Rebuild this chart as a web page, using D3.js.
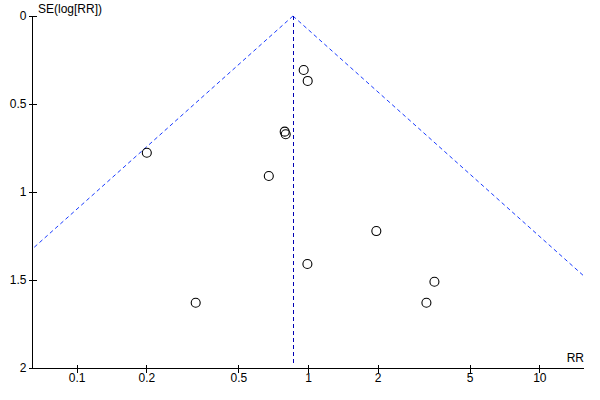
<!DOCTYPE html>
<html>
<head>
<meta charset="utf-8">
<script src="https://cdn.jsdelivr.net/npm/d3@7"></script>
<style>
  html, body { margin: 0; padding: 0; background: #fff; }
  svg text { font-family: "Liberation Sans", Arial, sans-serif; font-size: 12px; fill: #000; }
</style>
</head>
<body>
<div id="chart"></div>
<script>
// study estimates
const rr = [0.958, 0.997, 0.793, 0.801, 0.201, 0.677, 0.994, 0.327, 1.974, 3.52, 3.25];
const se = [0.307, 0.369, 0.657, 0.672, 0.777, 0.909, 1.409, 1.629, 1.222, 1.51, 1.629];

const pooledRR = 0.861;
const xTicks = [0.1, 0.2, 0.5, 1, 2, 5, 10];
const yTicks = [0, 0.5, 1, 1.5, 2];

const width = 600, height = 400;
// plot box edges (don't call these top/left: window.top exists)
const plotL = 32, plotR = 584, plotT = 16, plotB = 368;

const svg = d3.select("#chart").append("svg")
    .attr("width", width)
    .attr("height", height);

const x = d3.scaleLog().domain([0.0641, 15.6]).range([plotL, plotR]);
const y = d3.scaleLinear().domain([0, 2]).range([plotT, plotB]);

// x axis, ticks crossing the line
const gx = svg.append("g")
    .attr("transform", `translate(0,${plotB + 0.5})`)
    .style("shape-rendering", "crispEdges")
    .call(d3.axisBottom(x).tickValues(xTicks).tickFormat(d => d).tickSize(4).tickPadding(3));
gx.select(".domain").attr("d", `M${plotL},0H${plotR}`).attr("stroke", "#000");
gx.selectAll(".tick line").attr("y1", -4).attr("y2", 4).attr("stroke", "#000");
gx.selectAll(".tick text").attr("y", 5).attr("dy", "0.71em");

// y axis
const gy = svg.append("g")
    .attr("transform", `translate(${plotL + 0.5},0)`)
    .style("shape-rendering", "crispEdges")
    .call(d3.axisLeft(y).tickValues(yTicks).tickFormat(d => d).tickSize(4).tickPadding(3));
gy.select(".domain").attr("d", `M0,${plotT}V${plotB}`).attr("stroke", "#000");
gy.selectAll(".tick line").attr("x1", 4).attr("x2", -4).attr("stroke", "#000");
gy.selectAll(".tick text").attr("x", -6);
svg.selectAll(".tick text").style("font-family", "Liberation Sans, Arial, sans-serif").style("font-size", "12px");

// axis titles
svg.append("text").attr("x", 38).attr("y", 13).text("SE(log[RR])");
svg.append("text").attr("x", plotR).attr("y", 362).attr("text-anchor", "end").text("RR");

// pseudo 95% confidence limits
svg.append("clipPath").attr("id", "plotclip")
    .append("rect").attr("x", plotL).attr("y", plotT - 2).attr("width", plotR - plotL).attr("height", plotB - plotT + 2);

const seMax = 2;
const lower = [[pooledRR, 0], [pooledRR * Math.exp(-1.96 * seMax), seMax]];
const upper = [[pooledRR, 0], [pooledRR * Math.exp(1.96 * seMax), seMax]];
const line = d3.line().x(d => x(d[0])).y(d => y(d[1]));

svg.append("g").attr("clip-path", "url(#plotclip)")
  .selectAll("path.limit")
  .data([lower, upper])
  .enter().append("path")
    .attr("class", "limit")
    .attr("d", line)
    .attr("fill", "none")
    .attr("stroke", "#1a3cff")
    .attr("stroke-width", 1)
    .attr("stroke-dasharray", "4,3");

// pooled estimate
const px = Math.round(x(pooledRR)) + 0.5;
svg.append("line")
    .attr("x1", px).attr("x2", px)
    .attr("y1", y(0)).attr("y2", plotB - 2)
    .attr("stroke", "#0000b4")
    .attr("stroke-width", 1)
    .attr("stroke-dasharray", "4,3");

// studies
svg.selectAll("circle.study")
    .data(rr.map((d, i) => ({ rr: d, se: se[i] })))
    .enter().append("circle")
    .attr("class", "study")
    .attr("cx", d => x(d.rr))
    .attr("cy", d => y(d.se))
    .attr("r", 4.5)
    .attr("fill", "none")
    .attr("stroke", "#000")
    .attr("stroke-width", 1.1);
</script>
</body>
</html>
